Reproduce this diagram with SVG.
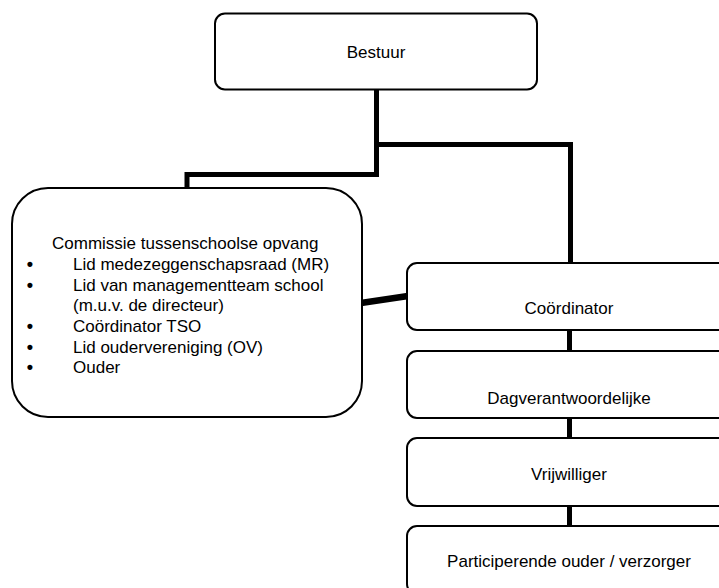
<svg xmlns="http://www.w3.org/2000/svg" width="719" height="588" viewBox="0 0 719 588">
<style>
.box{fill:#fff;stroke:#000;stroke-width:2}
.t{font-family:"Liberation Sans",Arial,sans-serif;font-size:17px;fill:#000}
.c{text-anchor:middle}
.b{font-family:"Liberation Sans",Arial,sans-serif;font-size:18px;font-weight:bold;fill:#000;text-anchor:middle}
.ln{fill:none;stroke:#000;stroke-width:5}
</style>
<rect width="719" height="588" fill="#fff"/>
<g id="connectors">
<polyline class="ln" points="376.5,89 376.5,174.5 187,174.5 187,189"/>
<polyline class="ln" points="376.5,144.5 570.5,144.5 570.5,263"/>
<line class="ln" x1="361" y1="303" x2="408" y2="296" style="stroke-width:6.5"/>
<line class="ln" x1="569.5" y1="330" x2="569.5" y2="351"/>
<line class="ln" x1="569.5" y1="418" x2="569.5" y2="438"/>
<line class="ln" x1="569.5" y1="506" x2="569.5" y2="526"/>
</g>
<g id="bestuur">
<rect class="box" x="215" y="13.5" width="322" height="76" rx="10"/>
<text class="t c" x="376" y="58">Bestuur</text>
</g>
<g id="commissie">
<rect class="box" x="12" y="188" width="350" height="229" rx="36"/>
<text class="t" x="52" y="249">Commissie tussenschoolse opvang</text>
<g class="b"><text x="30" y="270">•</text><text x="30" y="290.5">•</text><text x="30" y="332">•</text><text x="30" y="352.5">•</text><text x="30" y="373">•</text></g>
<text class="t" x="73" y="270">Lid medezeggenschapsraad (MR)</text>
<text class="t" x="73" y="290.5">Lid van managementteam school</text>
<text class="t" x="73" y="311">(m.u.v. de directeur)</text>
<text class="t" x="73" y="332">Coördinator TSO</text>
<text class="t" x="73" y="352.5">Lid oudervereniging (OV)</text>
<text class="t" x="73" y="373">Ouder</text>
</g>
<g id="coordinator">
<rect class="box" x="407" y="263" width="324" height="67" rx="10"/>
<text class="t c" x="569" y="314">Coördinator</text>
</g>
<g id="dagverantwoordelijke">
<rect class="box" x="407" y="351" width="324" height="67" rx="10"/>
<text class="t c" x="569" y="404">Dagverantwoordelijke</text>
</g>
<g id="vrijwilliger">
<rect class="box" x="407" y="438" width="324" height="68" rx="10"/>
<text class="t c" x="569" y="480">Vrijwilliger</text>
</g>
<g id="participerende">
<rect class="box" x="407" y="526" width="324" height="68" rx="10"/>
<text class="t c" x="569" y="567">Participerende ouder / verzorger</text>
</g>
</svg>
